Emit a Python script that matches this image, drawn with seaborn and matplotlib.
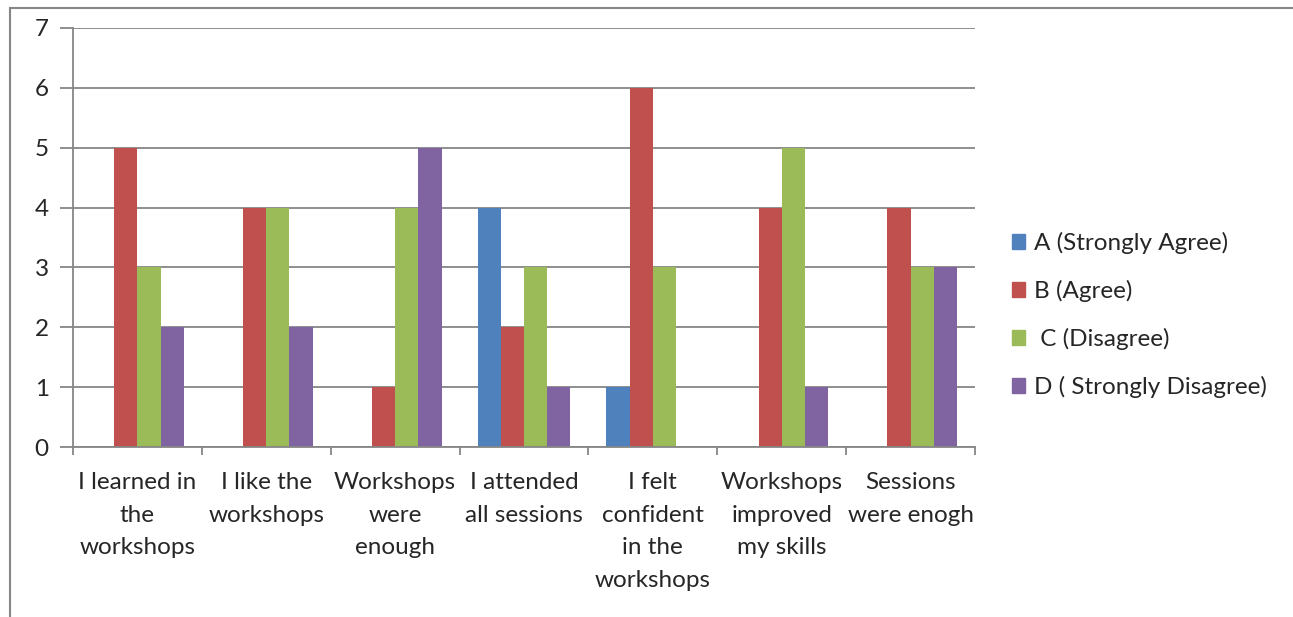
"""Survey responses about the workshops, grouped bar chart"""

import pandas as pd
import matplotlib.pyplot as plt
import matplotlib.patches as mpatches
import seaborn as sns

questions = ['I learned in\nthe\nworkshops', 'I like the\nworkshops', 'Workshops\nwere\nenough',
             'I attended\nall sessions', 'I felt\nconfident\nin the\nworkshops', 'Workshops\nimproved\nmy skills',
             'Sessions\nwere enogh']
answers = ['A (Strongly Agree)', 'B (Agree)', ' C (Disagree)', 'D ( Strongly Disagree)']
a_vals = [0, 0, 0, 4, 1, 0, 0]
b_vals = [5, 4, 1, 2, 6, 4, 4]
c_vals = [3, 4, 4, 3, 3, 5, 3]
d_vals = [2, 2, 5, 1, 0, 1, 3]
colors = ['#4F81BD', '#C0504D', '#9BBB59', '#8064A2']

rows = []
for ans, vals in zip(answers, [a_vals, b_vals, c_vals, d_vals]):
    for q, v in zip(questions, vals):
        rows.append({'question': q, 'answer': ans, 'count': v})
df = pd.DataFrame(rows)

sns.set_style('white')
plt.rcParams['font.family'] = ['Lato', 'DejaVu Sans']
grey = '#868686'
fs = 17.5

fig = plt.figure(figsize=(12.93, 6.17), dpi=100)
ax = fig.add_axes([73 / 1293, 1 - 447 / 617, (975 - 73) / 1293, (447 - 28) / 617])

sns.barplot(data=df, x='question', y='count', hue='answer', palette=colors,
            width=0.72, saturation=1, linewidth=0, ax=ax, legend=True)

ax.set_ylim(0, 7)
ax.set_xlim(-0.5, 6.5)
ax.set_yticks(range(8))
ax.set_xlabel('')
ax.set_ylabel('')
ax.grid(axis='y', color=grey, lw=1.3)
ax.set_axisbelow(True)
for s in ['top', 'right']:
    ax.spines[s].set_visible(False)
for s in ['left', 'bottom']:
    ax.spines[s].set_color(grey)
    ax.spines[s].set_linewidth(1.3)

ax.tick_params(axis='y', length=9.5, width=1.3, color=grey, pad=8, labelsize=fs, left=True)
ax.tick_params(axis='x', which='major', length=0, pad=18, labelsize=fs)
ax.set_xticks([i + 0.5 for i in range(-1, 7)], minor=True)
ax.tick_params(axis='x', which='minor', length=6, width=1.3, color=grey, bottom=True)
for lbl in ax.get_xticklabels():
    lbl.set_linespacing(1.68)

handles = [mpatches.Patch(color=c) for c in colors]
ax.legend(handles, answers, loc='center left', bbox_to_anchor=(1012 / 1293, 1 - 315 / 617),
          bbox_transform=fig.transFigure, frameon=False, fontsize=fs, borderpad=0, borderaxespad=0,
          handlelength=0.55, handleheight=0.55, handletextpad=0.35, labelspacing=1.07)

# outer chart frame, cut off by the image edges
frame = mpatches.Rectangle((10 / 1293, -0.1), 1.2, 1 - 8 / 617 + 0.1, transform=fig.transFigure,
                           fill=False, edgecolor=grey, lw=1.5, clip_on=False)
fig.patches.append(frame)

plt.savefig('out.png', dpi=100)
plt.close()
